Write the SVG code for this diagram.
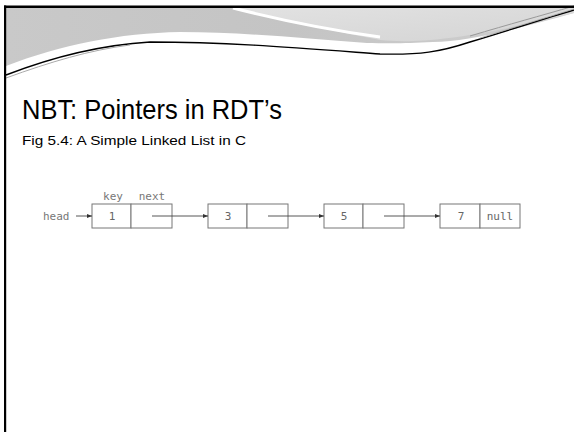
<svg xmlns="http://www.w3.org/2000/svg" width="574" height="432" viewBox="0 0 574 432">
<defs>
<linearGradient id="hdr" x1="0" y1="0" x2="1" y2="0">
<stop offset="0" stop-color="#c9c9c9"/>
<stop offset="0.5" stop-color="#c4c4c4"/>
<stop offset="1" stop-color="#cfcfcf"/>
</linearGradient>
<linearGradient id="hdr2" x1="0" y1="0" x2="1" y2="1">
<stop offset="0" stop-color="#e2e2e2"/>
<stop offset="1" stop-color="#d4d4d4"/>
</linearGradient>
<marker id="ah" viewBox="0 0 10 10" refX="10" refY="5" markerWidth="7" markerHeight="5" orient="auto" markerUnits="userSpaceOnUse">
<path d="M0,1 L10,5 L0,9 z" fill="#333"/>
</marker>
<style>
.cell{fill:#fff;stroke:#777;stroke-width:1}
.lbl{font-family:"DejaVu Sans Mono","Liberation Mono",monospace;font-size:11px;fill:#777}
.val{font-family:"DejaVu Sans Mono","Liberation Mono",monospace;font-size:11px;fill:#666;text-anchor:middle}
.conn{stroke:#444;stroke-width:0.9;fill:none;marker-end:url(#ah)}
</style>
</defs>
<rect width="574" height="432" fill="#fff"/>
<g id="header">
<path d="M6,8 H574 V13 C520,28 470,42 433,42 C400,44 380,43 367,43 C300,38 240,32 180,32 C120,33 60,45 6,66 Z" fill="url(#hdr)"/>
<path d="M233,8 C290,22 340,32 380,40 C420,44 470,38 574,13 V8 Z" fill="url(#hdr2)"/>
<path d="M233,8 C280,20 330,30 380,37" stroke="#fff" stroke-width="3" fill="none"/>
<path d="M6,75 C50,58 100,45 150,42 C230,42 300,48 380,54 C420,55 440,52 470,42 C510,30 540,20 574,10" stroke="#000" stroke-width="1.4" fill="none"/>
<path d="M6,78 C50,62 90,50 130,45" stroke="#aaa" stroke-width="1" fill="none"/>
<path d="M470,36 C510,24 540,16 574,6" stroke="#999" stroke-width="1" fill="none"/>
<path d="M480,38 C515,27 545,18 574,9" stroke="#aaa" stroke-width="0.8" fill="none"/>
</g>
<g id="frame">
<rect x="4" y="5.5" width="570" height="2.5" fill="#000"/>
<rect x="4" y="5.5" width="2.2" height="426.5" fill="#000"/>
</g>
<g id="title">
<text x="22" y="119" font-family="Liberation Sans, Arial, sans-serif" font-size="28" fill="#000" textLength="260" lengthAdjust="spacingAndGlyphs">NBT: Pointers in RDT’s</text>
</g>
<g id="subtitle">
<text x="22" y="145" font-family="Liberation Sans, Arial, sans-serif" font-size="13" fill="#000" textLength="224" lengthAdjust="spacingAndGlyphs">Fig 5.4: A Simple Linked List in C</text>
</g>
<g id="head">
<text class="lbl" x="43" y="220">head</text>
</g>
<g id="labels">
<text class="lbl" x="113" y="200" text-anchor="middle">key</text>
<text class="lbl" x="152" y="200" text-anchor="middle">next</text>
</g>
<g id="node1">
<rect class="cell" x="92" y="204" width="39" height="24"/>
<rect class="cell" x="131" y="204" width="41" height="24"/>
<text class="val" x="112" y="220">1</text>
</g>
<g id="node3">
<rect class="cell" x="208" y="204" width="39" height="24"/>
<rect class="cell" x="247" y="204" width="41" height="24"/>
<text class="val" x="228" y="220">3</text>
</g>
<g id="node5">
<rect class="cell" x="324" y="204" width="39" height="24"/>
<rect class="cell" x="363" y="204" width="41" height="24"/>
<text class="val" x="344" y="220">5</text>
</g>
<g id="node7">
<rect class="cell" x="440" y="204" width="40" height="24"/>
<rect class="cell" x="480" y="204" width="40" height="24"/>
<text class="val" x="461" y="220">7</text>
<text class="val" x="500" y="220">null</text>
</g>
<g id="connectors">
<line class="conn" x1="76" y1="216" x2="92" y2="216"/>
<line class="conn" x1="152" y1="216" x2="208" y2="216"/>
<line class="conn" x1="268" y1="216" x2="324" y2="216"/>
<line class="conn" x1="384" y1="216" x2="440" y2="216"/>
</g>
</svg>
